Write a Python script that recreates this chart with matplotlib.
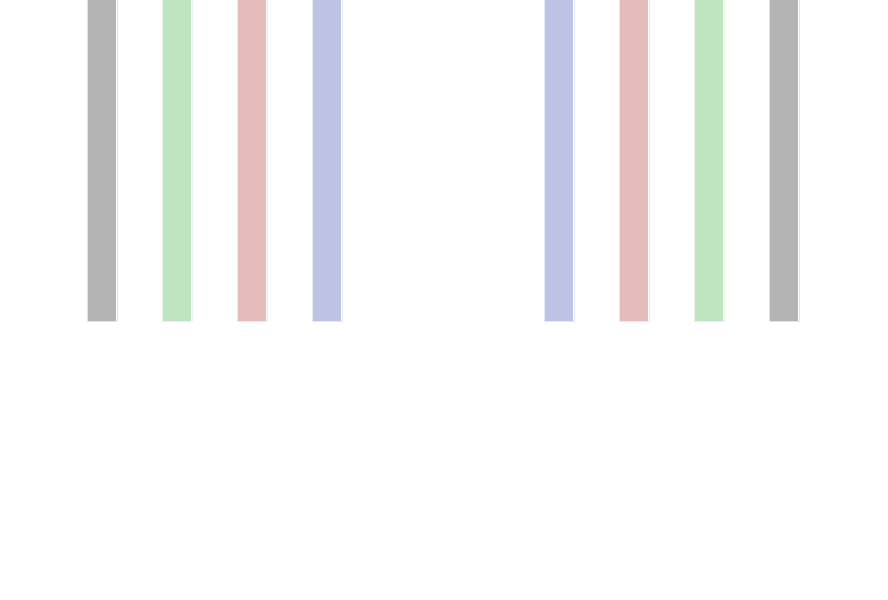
import matplotlib
matplotlib.use("Agg")
import matplotlib.pyplot as plt

categories = ["A1", "A2", "A3", "A4", "B1", "B2", "B3", "B4"]
values = [100, 100, 100, 100, 100, 100, 100, 100]
colors = ["#b4b4b4", "#bee5bf", "#e5bcbc", "#bcc3e5",
          "#bcc3e5", "#e5bcbc", "#bee5bf", "#b4b4b4"]

fig = plt.figure(figsize=(8.88, 6), dpi=100)
ax = fig.add_axes([0, 0, 1, 1])
gap = 2.093
xs = [1.36 + i + (gap if i >= 4 else 0) for i in range(len(categories))]
ax.bar(xs, values, width=0.373, color=colors, edgecolor="none")
ax.bar(xs, values, width=0.39, color="none", edgecolor=colors, linewidth=0.8, alpha=0.35)
ax.set_xlim(0, 888 / 75)
ax.set_ylim(-43.46, 50)
ax.axis("off")
fig.savefig("out.png", dpi=100, facecolor="white")
